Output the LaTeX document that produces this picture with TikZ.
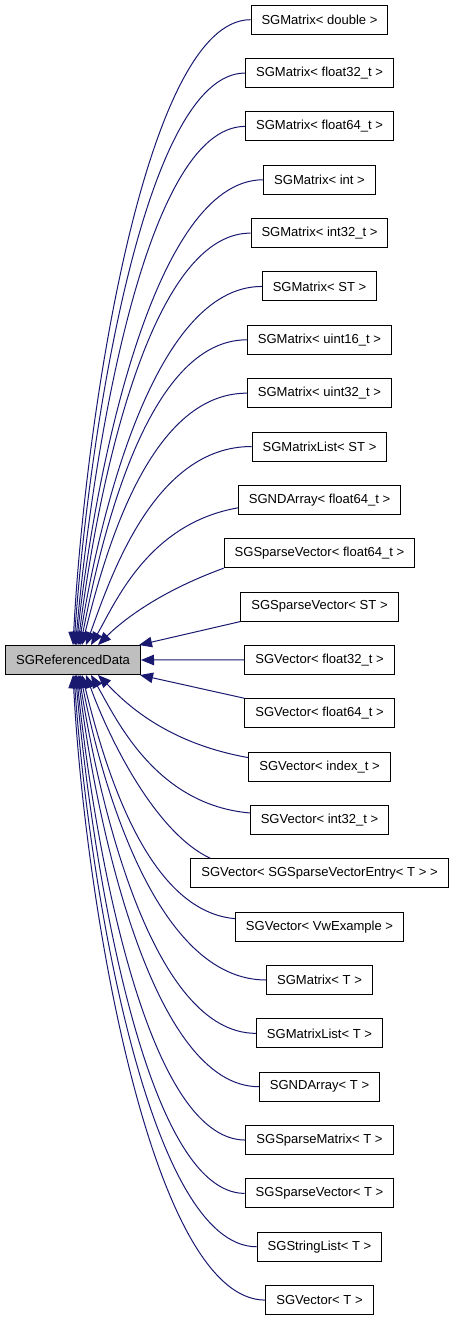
\documentclass[tikz,border=0pt]{standalone}
\usepackage{fontspec}
\setmainfont{Liberation Sans}
\usetikzlibrary{arrows.meta}
\definecolor{edgeblue}{HTML}{191970}
\definecolor{refgray}{HTML}{BFBFBF}
\begin{document}
\begin{tikzpicture}[x=1pt,y=1pt,
  box/.style={draw=black, line width=1pt, fill=white, minimum height=29pt,
    inner xsep=10.5pt, inner ysep=0pt, font=\fontsize{13.04}{15}\selectfont},
  refbox/.style={box, fill=refgray, inner xsep=7.5pt, minimum width=135pt},
  conn/.style={draw=edgeblue, line width=1pt, -{Triangle[length=13pt,width=10.5pt]}}]
\useasboundingbox (0,0) rectangle (456,-1320);
\node[refbox] (ref) at (73,-660) {SGReferencedData};
\node[box] (b1) at (319.5,-19.7) {SGMatrix< double >};
\node[box] (b2) at (319.5,-73.05) {SGMatrix< float32\_t >};
\node[box] (b3) at (319.5,-126.4) {SGMatrix< float64\_t >};
\node[box] (b4) at (319.5,-179.75) {SGMatrix< int >};
\node[box] (b5) at (319.5,-233.1) {SGMatrix< int32\_t >};
\node[box] (b6) at (319.5,-286.45) {SGMatrix< ST >};
\node[box] (b7) at (319.5,-339.8) {SGMatrix< uint16\_t >};
\node[box] (b8) at (319.5,-393.15) {SGMatrix< uint32\_t >};
\node[box] (b9) at (319.5,-446.5) {SGMatrixList< ST >};
\node[box] (b10) at (319.5,-499.85) {SGNDArray< float64\_t >};
\node[box] (b11) at (319.5,-553.2) {SGSparseVector< float64\_t >};
\node[box] (b12) at (319.5,-606.55) {SGSparseVector< ST >};
\node[box] (b13) at (319.5,-659.9) {SGVector< float32\_t >};
\node[box] (b14) at (319.5,-713.25) {SGVector< float64\_t >};
\node[box] (b15) at (319.5,-766.6) {SGVector< index\_t >};
\node[box] (b16) at (319.5,-819.95) {SGVector< int32\_t >};
\node[box] (b17) at (319.5,-873.3) {SGVector< SGSparseVectorEntry< T > >};
\node[box] (b18) at (319.5,-926.65) {SGVector< VwExample >};
\node[box] (b19) at (319.5,-980) {SGMatrix< T >};
\node[box] (b20) at (319.5,-1033.35) {SGMatrixList< T >};
\node[box] (b21) at (319.5,-1086.7) {SGNDArray< T >};
\node[box] (b22) at (319.5,-1140.05) {SGSparseMatrix< T >};
\node[box] (b23) at (319.5,-1193.4) {SGSparseVector< T >};
\node[box] (b24) at (319.5,-1246.75) {SGStringList< T >};
\node[box] (b25) at (319.5,-1300.1) {SGVector< T >};
% upper edges
\draw[conn] (b1.west) .. controls +(180:106) and +(87:225) .. ([xshift=68pt]ref.north west);
\draw[conn] (b2.west) .. controls +(180:102) and +(86:206) .. ([xshift=69pt]ref.north west);
\draw[conn] (b3.west) .. controls +(180:101) and +(85:187) .. ([xshift=70.5pt]ref.north west);
\draw[conn] (b4.west) .. controls +(180:111) and +(84:167) .. ([xshift=71.5pt]ref.north west);
\draw[conn] (b5.west) .. controls +(180:103) and +(83:148) .. ([xshift=73pt]ref.north west);
\draw[conn] (b6.west) .. controls +(180:108) and +(81:129) .. ([xshift=74pt]ref.north west);
\draw[conn] (b7.west) .. controls +(180:100) and +(79:110) .. ([xshift=75.5pt]ref.north west);
\draw[conn] (b8.west) .. controls +(180:99) and +(76:91) .. ([xshift=77pt]ref.north west);
\draw[conn] (b9.west) .. controls +(180:98) and +(70:71) .. ([xshift=81pt]ref.north west);
\draw[conn] ([yshift=-8pt]b10.west) .. controls +(190:91) and +(60:49) .. ([xshift=86pt]ref.north west);
\draw[conn] (b11.south west) .. controls +(200:75) and +(45:28) .. ([xshift=93pt]ref.north west);
\draw[conn] (b12.south west) -- ([xshift=134pt]ref.north west);
% middle
\draw[conn] (b13.west) -- (ref.east);
% lower edges
\draw[conn] (b14.north west) -- ([xshift=135pt]ref.south west);
\draw[conn] ([yshift=9pt]b15.west) .. controls +(170:90) and +(-45:30) .. ([xshift=93pt]ref.south west);
\draw[conn] ([yshift=7pt]b16.west) .. controls +(175:95) and +(-60:50) .. ([xshift=86pt]ref.south west);
\draw[conn] ([xshift=20pt]b17.north west) .. controls +(155:60) and +(-70:70) .. ([xshift=81pt]ref.south west);
\draw[conn] ([yshift=8pt]b18.west) .. controls +(175:91) and +(-76:87) .. ([xshift=77pt]ref.south west);
\draw[conn] (b19.west) .. controls +(180:110) and +(-79:110) .. ([xshift=75.5pt]ref.south west);
\draw[conn] (b20.west) .. controls +(180:104) and +(-81:129) .. ([xshift=74pt]ref.south west);
\draw[conn] (b21.west) .. controls +(180:107) and +(-83:148) .. ([xshift=73pt]ref.south west);
\draw[conn] (b22.west) .. controls +(180:100) and +(-84:167) .. ([xshift=71.5pt]ref.south west);
\draw[conn] (b23.west) .. controls +(180:100) and +(-85:187) .. ([xshift=70.5pt]ref.south west);
\draw[conn] (b24.west) .. controls +(180:109) and +(-86:206) .. ([xshift=69pt]ref.south west);
\draw[conn] (b25.west) .. controls +(180:115) and +(-87:225) .. ([xshift=68pt]ref.south west);
\end{tikzpicture}
\end{document}
